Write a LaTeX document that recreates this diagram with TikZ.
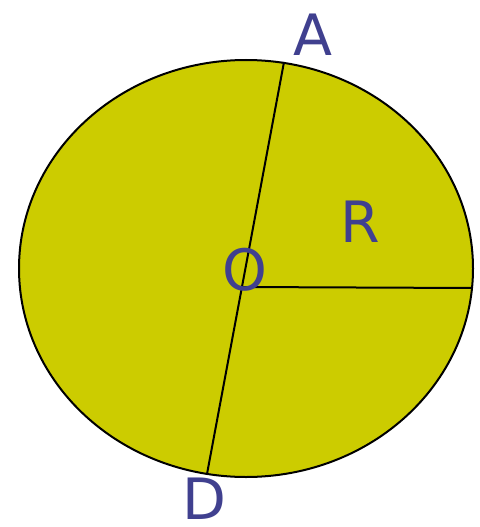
\documentclass[tikz,border=0pt]{standalone}
\usepackage{fontspec}
\setmainfont{DejaVu Sans}
\usetikzlibrary{positioning}
\definecolor{discfill}{HTML}{CCCC00}
\definecolor{labelblue}{HTML}{40408F}
\begin{document}
\begin{tikzpicture}[
        x=1pt,
        y=-1pt,
        disc/.style={
            draw,
            line width=2pt,
            fill=discfill
        },
        seg/.style={
            line width=2pt
        },
        lbl/.style={
            text=labelblue,
            inner sep=0pt,
            font=\fontsize{57}{62}\selectfont
        }
    ]
        \useasboundingbox (0,0) rectangle (479,527);

        \draw[disc] (246,268.5) ellipse[x radius=227, y radius=208.5];

        \coordinate (aEnd) at (284,62);
        \coordinate (dEnd) at (207,474);
        \coordinate (center) at (242,287);
        \coordinate (rEnd) at (472,288);

        \draw[seg] (aEnd) -- (dEnd);
        \draw[seg] (center) -- (rEnd);

        \node[lbl] (a) at (313,35) {A};
        \node[lbl] (o) at (245,270) {O};
        \node[lbl] (r) at (360,222) {R};
        \node[lbl] (d) at (204,499) {D};
    \end{tikzpicture}
\end{document}
